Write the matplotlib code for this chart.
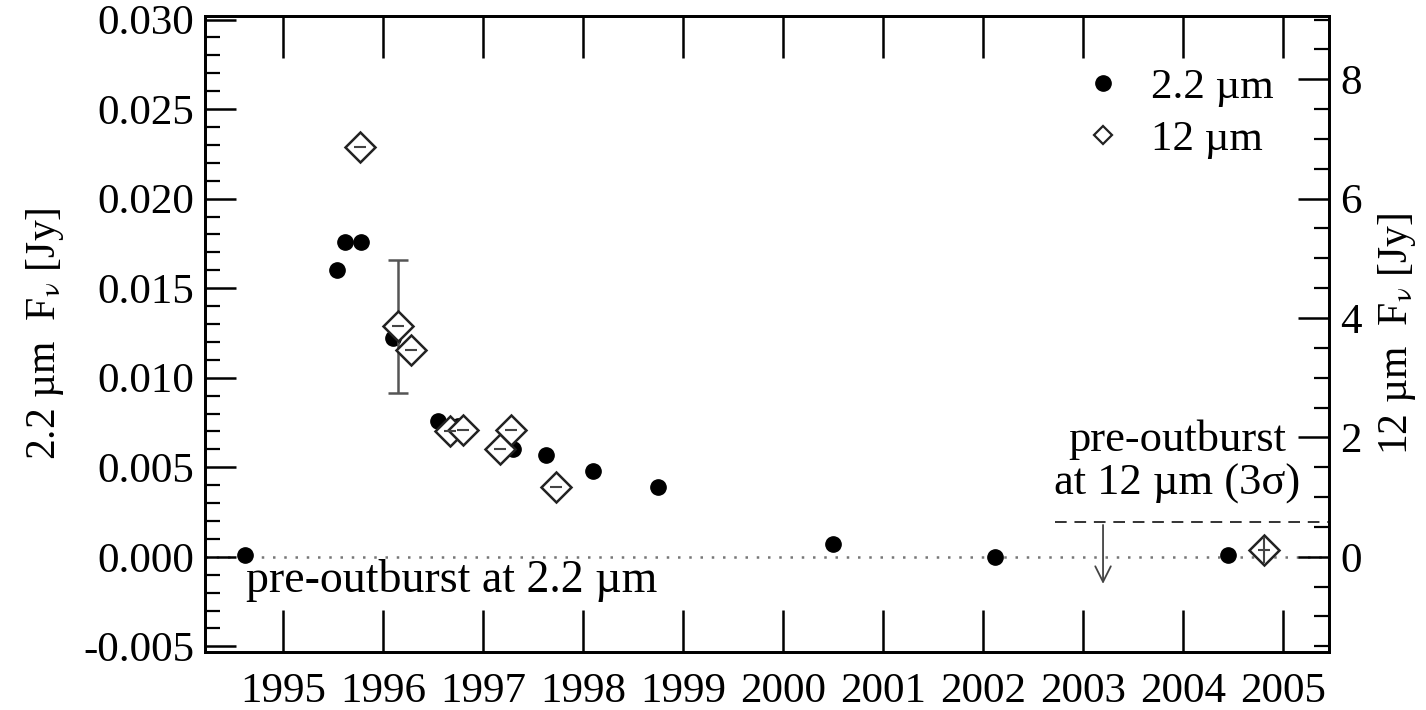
import matplotlib
matplotlib.use('Agg')
import matplotlib.pyplot as plt
from matplotlib.ticker import MultipleLocator

plt.rcParams['font.family'] = ['Liberation Serif', 'DejaVu Serif']
plt.rcParams['mathtext.fontset'] = 'stix'

# 2.2 micron fluxes (left axis, Jy)
k_year = [1994.62, 1995.54, 1995.62, 1995.78, 1996.10, 1996.55, 1996.75,
          1997.30, 1997.63, 1998.10, 1998.75, 2000.50, 2002.12, 2004.45]
k_flux = [0.0001, 0.0160, 0.0176, 0.0176, 0.0122, 0.0076, 0.0073,
          0.0060, 0.0057, 0.0048, 0.0039, 0.0007, 0.0000, 0.0001]

# 12 micron fluxes (right axis, Jy)
n_year = [1995.77, 1996.15, 1996.28, 1996.67, 1996.80, 1997.17, 1997.28, 1997.73, 2004.81]
n_flux = [6.86, 3.86, 3.47, 2.10, 2.12, 1.81, 2.12, 1.17, 0.12]
n_xerr = [0.06, 0.06, 0.06, 0.06, 0.06, 0.06, 0.06, 0.06, 0.06]
n_yerr = [0.0, 0.0, 0.0, 0.0, 0.0, 0.0, 0.0, 0.0, 0.22]

# the one big error bar (12 micron, 1996.15)
big_err_year = 1996.15
big_err_flux = 3.86
big_err = 1.12

# pre-outburst 12 micron upper limit (3 sigma)
limit_12 = 0.58
limit_start = 2002.72
limit_arrow_year = 2003.2

years = list(range(1995, 2006))

fig = plt.figure(figsize=(14.26, 7.10), dpi=100)
ax = fig.add_axes([0.1438, 0.0821, 0.7882, 0.8954])
ax2 = ax.twinx()

ylo, yhi = -0.0053, 0.0302
scale = 300.0
ax.set_ylim(ylo, yhi)
ax2.set_ylim(ylo * scale, yhi * scale)
ax.set_xlim(1994.22, 2005.46)

# dotted pre-outburst line at 2.2 um
ax.axhline(0, color='#777777', ls=(0, (1, 3.5)), lw=1.8, zorder=1)

ax.plot(k_year, k_flux, 'o', color='black', ms=11, zorder=4, label='2.2 µm')

ax2.errorbar([big_err_year], [big_err_flux], yerr=[big_err], fmt='none',
             ecolor='#555555', elinewidth=1.8, capsize=7, capthick=1.8, zorder=3)
ax2.plot(n_year, n_flux, 'D', ms=15, mfc='white', mec='#222222', mew=1.8,
         zorder=5)
# small error bars drawn on top of the diamonds
ax2.errorbar(n_year, n_flux, xerr=n_xerr, yerr=n_yerr, fmt='none',
             ecolor='#444444', elinewidth=1.5, capsize=0, zorder=6)

# 12 um upper limit
ax2.plot([limit_start, 2005.46], [limit_12, limit_12], color='#333333',
         ls=(0, (6, 4)), lw=1.4)
ax2.annotate('', xy=(limit_arrow_year, -0.5), xytext=(limit_arrow_year, limit_12),
             arrowprops=dict(arrowstyle='->', color='#444444', lw=1.3,
                             mutation_scale=28))

ax.text(1994.63, -0.0013, 'pre-outburst at 2.2 µm', fontsize=33,
        ha='left', va='center')
ax.text(2003.94, 0.0053, 'pre-outburst\nat 12 µm (3σ)', fontsize=32,
        ha='center', va='center', linespacing=1.1)

# legend
ax.plot([], [], 'D', ms=9, mfc='white', mec='#222222', mew=1.6, label='12 µm')
leg = ax.legend(loc='upper right', bbox_to_anchor=(0.985, 0.98), frameon=False,
                fontsize=31, handletextpad=0.5, labelspacing=0.3,
                handlelength=1.2)

# ticks
ax.set_xticks(years)
ax.set_xticklabels([str(y) for y in years])
ax.yaxis.set_minor_locator(MultipleLocator(0.001))
ax.set_yticks([-0.005, 0.0, 0.005, 0.010, 0.015, 0.020, 0.025, 0.030])
ax.set_yticklabels(['-0.005', '0.000', '0.005', '0.010', '0.015',
                    '0.020', '0.025', '0.030'])
ax.tick_params(axis='x', which='major', direction='in', length=30, width=1.8,
               top=True, bottom=True, labelsize=31, pad=15)
ax.tick_params(axis='y', which='major', direction='in', length=22, width=1.8,
               right=False, labelsize=31, pad=8)
ax.tick_params(axis='y', which='minor', direction='in', length=11, width=1.6,
               right=False)
ax2.yaxis.set_major_locator(MultipleLocator(2))
ax2.yaxis.set_minor_locator(MultipleLocator(0.5))
ax2.tick_params(axis='y', which='major', direction='in', length=22, width=1.8,
                labelsize=31, pad=8)
ax2.tick_params(axis='y', which='minor', direction='in', length=11, width=1.6)

for a in (ax, ax2):
    for s in a.spines.values():
        s.set_linewidth(2.0)

ax.set_ylabel('2.2 µm  F$_\\mathrm{\\nu}$ [Jy]', fontsize=30, labelpad=12)
ax2.set_ylabel('12 µm  F$_\\mathrm{\\nu}$ [Jy]', fontsize=30, rotation=90,
               labelpad=10)

fig.savefig('out.png', dpi=100)
